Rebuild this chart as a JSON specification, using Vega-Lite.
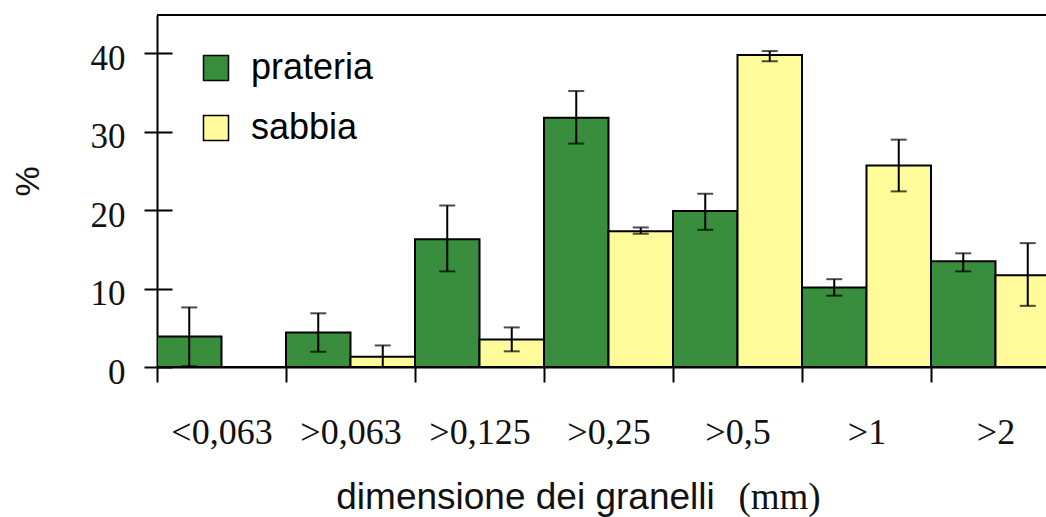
{
  "$schema": "https://vega.github.io/schema/vega-lite/v6.json",
  "width": 889,
  "height": 352,
  "autosize": {"type": "none"},
  "padding": {"left": 157, "top": 15, "right": 0, "bottom": 150},
  "background": "white",
  "config": {
    "view": {"stroke": null},
    "axis": {"domainColor": "black", "domainWidth": 2, "tickColor": "black", "tickWidth": 2, "grid": false, "labelColor": "#111", "titleColor": "#111"}
  },
  "data": {
    "values": [
      {"cat": "<0,063", "serie": "prateria", "val": 3.9, "lo": 0.1, "hi": 7.6},
      {"cat": "<0,063", "serie": "sabbia", "val": 0, "lo": null, "hi": null},
      {"cat": ">0,063", "serie": "prateria", "val": 4.4, "lo": 1.95, "hi": 6.85},
      {"cat": ">0,063", "serie": "sabbia", "val": 1.3, "lo": 0, "hi": 2.75},
      {"cat": ">0,125", "serie": "prateria", "val": 16.3, "lo": 12.2, "hi": 20.6},
      {"cat": ">0,125", "serie": "sabbia", "val": 3.5, "lo": 2.0, "hi": 5.05},
      {"cat": ">0,25", "serie": "prateria", "val": 31.8, "lo": 28.5, "hi": 35.2},
      {"cat": ">0,25", "serie": "sabbia", "val": 17.3, "lo": 17.0, "hi": 17.8},
      {"cat": ">0,5", "serie": "prateria", "val": 19.9, "lo": 17.5, "hi": 22.1},
      {"cat": ">0,5", "serie": "sabbia", "val": 39.8, "lo": 39.0, "hi": 40.3},
      {"cat": ">1", "serie": "prateria", "val": 10.15, "lo": 9.1, "hi": 11.2},
      {"cat": ">1", "serie": "sabbia", "val": 25.7, "lo": 22.4, "hi": 29.0},
      {"cat": ">2", "serie": "prateria", "val": 13.5, "lo": 12.2, "hi": 14.5},
      {"cat": ">2", "serie": "sabbia", "val": 11.7, "lo": 7.8, "hi": 15.8}
    ]
  },
  "layer": [
    {
      "mark": {"type": "bar", "stroke": "black", "strokeWidth": 2, "clip": true, "opacity": 1},
      "encoding": {
        "x": {
          "field": "cat", "type": "nominal", "sort": null,
          "scale": {"type": "band", "paddingInner": 0, "paddingOuter": 0, "range": [0, 903]},
          "axis": {
            "tickBand": "extent", "tickSize": 15, "labelAngle": 0,
            "labelFont": "Liberation Serif", "labelFontSize": 36, "labelPadding": 33, "labelBaseline": "top",
            "title": "dimensione dei granelli", "titleFont": "Liberation Sans", "titleFontSize": 37, "titleFontWeight": "normal",
            "titleX": 368, "titleY": 141, "titleAlign": "center", "titleBaseline": "alphabetic"
          }
        },
        "xOffset": {"field": "serie", "type": "nominal", "scale": {"paddingInner": 0, "paddingOuter": 0, "domain": ["prateria", "sabbia"]}},
        "y": {
          "field": "val", "type": "quantitative",
          "scale": {"domain": [0, 44.9], "nice": false, "zero": true},
          "axis": {
            "orient": "left", "values": [0, 10, 20, 30, 40], "tickSize": 13, "labelPadding": 19,
            "labelFont": "Liberation Serif", "labelFontSize": 35, "labelOffset": 5,
            "title": "%", "titleFont": "Liberation Sans", "titleFontSize": 34, "titleFontWeight": "normal",
            "titleX": -129, "titleY": 166, "titleAlign": "center", "titleBaseline": "middle", "titleAngle": -90
          }
        },
        "color": {
          "field": "serie", "type": "nominal",
          "scale": {"domain": ["prateria", "sabbia"], "range": ["#388E3C", "#FFFA9A"]},
          "legend": {
            "orient": "none", "legendX": 41, "legendY": 35, "title": null, "padding": 0,
            "symbolType": "square", "symbolSize": 625, "symbolStrokeColor": "black", "symbolStrokeWidth": 1.5, "symbolOpacity": 1,
            "labelFont": "Liberation Sans", "labelFontSize": 36, "labelColor": "black", "labelOffset": 17, "rowPadding": 24
          }
        }
      }
    },
    {
      "mark": {"type": "rule", "color": "black", "strokeWidth": 2, "clip": true},
      "encoding": {
        "x": {"field": "cat", "type": "nominal", "sort": null},
        "xOffset": {"field": "serie", "type": "nominal"},
        "y": {
          "field": "lo", "type": "quantitative",
          "axis": {
            "orient": "left", "values": [0, 10, 20, 30, 40], "tickSize": -15, "labels": false, "domain": false,
            "title": "(mm)", "titleFont": "Liberation Serif", "titleFontSize": 37, "titleFontWeight": "normal",
            "titleAngle": 0, "titleX": 622, "titleY": 493, "titleAlign": "center", "titleBaseline": "alphabetic"
          }
        },
        "y2": {"field": "hi"}
      }
    },
    {
      "mark": {"type": "tick", "color": "black", "thickness": 2, "size": 16, "orient": "horizontal", "clip": true},
      "encoding": {
        "x": {"field": "cat", "type": "nominal", "sort": null},
        "xOffset": {"field": "serie", "type": "nominal"},
        "y": {"field": "hi", "type": "quantitative", "axis": null}
      }
    },
    {
      "mark": {"type": "tick", "color": "black", "thickness": 2, "size": 16, "orient": "horizontal", "clip": true},
      "encoding": {
        "x": {"field": "cat", "type": "nominal", "sort": null},
        "xOffset": {"field": "serie", "type": "nominal"},
        "y": {"field": "lo", "type": "quantitative", "axis": null}
      }
    },
    {
      "mark": {"type": "rule", "color": "black", "strokeWidth": 2},
      "encoding": {"y": {"datum": 44.9, "type": "quantitative", "axis": null}}
    }
  ],
  "resolve": {"axis": {"y": "independent"}}
}
